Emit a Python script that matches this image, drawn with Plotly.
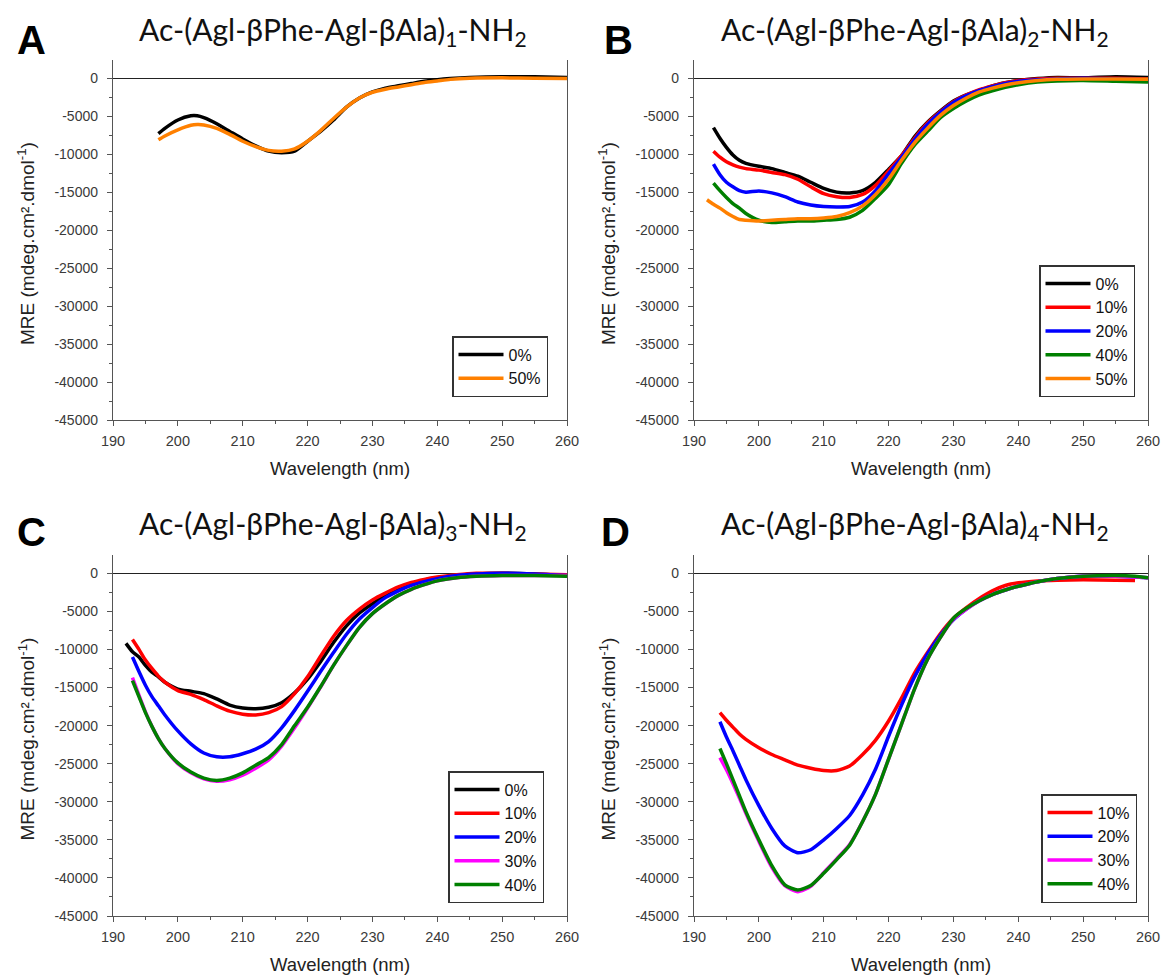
import plotly.graph_objects as go

# ---------------- data ----------------
# Panel A
wl_A = [197, 198, 200, 202, 203, 204, 206, 208, 210, 212, 214, 216, 218, 220, 222, 224, 226, 228, 230, 232, 234, 236, 238, 240, 242, 245, 250, 255, 260]
A_0 = [-7300, -6600, -5500, -4950, -4950, -5200, -6000, -7000, -8000, -8900, -9600, -9800, -9600, -8300, -7000, -5500, -3800, -2600, -1800, -1300, -1000, -700, -400, -200, -50, 100, 200, 200, 100]
A_50 = [-8100, -7600, -6800, -6200, -6100, -6150, -6600, -7400, -8300, -9000, -9500, -9600, -9300, -8300, -6900, -5300, -3800, -2600, -1850, -1450, -1150, -850, -550, -350, -150, 0, 50, 0, -50]

# Panel B
wl_B = [192, 193, 194, 195, 196, 197, 198, 200, 202, 204, 206, 208, 210, 212, 214, 216, 218, 220, 222, 224, 226, 228, 230, 232, 234, 236, 238, 240, 243, 246, 250, 255, 260]
B_0 = [None, -6500, -7900, -9100, -10100, -10800, -11200, -11600, -11900, -12400, -12900, -13700, -14500, -15000, -15100, -14800, -13700, -12000, -10200, -7700, -5800, -4300, -3000, -2200, -1600, -1000, -600, -300, -50, 100, 50, 200, 100]
B_10 = [None, -9600, -10400, -11000, -11400, -11700, -11900, -12100, -12400, -12700, -13300, -14300, -15200, -15600, -15700, -15300, -14100, -12200, -10200, -7900, -5900, -4400, -3100, -2200, -1500, -1000, -600, -300, -100, 0, 0, 0, -100]
B_20 = [None, -11300, -12700, -13700, -14300, -14800, -15000, -14850, -15100, -15600, -16300, -16700, -16900, -16950, -16900, -16300, -14800, -12600, -10400, -8100, -6100, -4500, -3200, -2300, -1600, -1100, -700, -400, -200, -100, 0, -100, -200]
B_40 = [None, -13800, -14800, -15700, -16500, -17100, -17800, -18700, -19000, -18900, -18800, -18800, -18700, -18600, -18300, -17400, -15800, -14000, -11200, -8800, -7000, -5200, -4000, -3000, -2200, -1650, -1200, -850, -500, -350, -300, -400, -500]
B_50 = [-16000, -16600, -17100, -17700, -18200, -18600, -18700, -18800, -18700, -18600, -18500, -18500, -18400, -18200, -17700, -16800, -15300, -13300, -10800, -8500, -6600, -4900, -3600, -2600, -1800, -1300, -900, -600, -300, -150, -100, -100, -150]

# Panel C
wl_C = [192, 193, 194, 195, 196, 197, 198, 200, 202, 204, 206, 208, 210, 212, 214, 216, 218, 220, 222, 224, 226, 228, 230, 232, 234, 236, 238, 240, 243, 246, 250, 255, 260]
C_0 = [-9200, -10300, -11000, -12100, -13000, -13600, -14300, -15200, -15500, -15800, -16500, -17300, -17700, -17800, -17600, -17000, -15700, -13900, -11600, -9100, -6900, -5200, -4000, -2900, -2000, -1400, -900, -600, -300, -100, 0, -100, -300]
C_10 = [None, -8700, -10000, -11400, -12500, -13500, -14300, -15400, -15900, -16600, -17400, -18100, -18500, -18600, -18300, -17500, -15800, -13600, -10900, -8300, -6200, -4700, -3500, -2600, -1800, -1200, -800, -500, -200, 0, 0, -100, -200]
C_20 = [None, -11000, -12900, -14700, -16200, -17400, -18600, -20700, -22400, -23600, -24100, -24100, -23700, -23100, -22100, -20300, -18000, -15500, -12900, -10400, -8000, -6000, -4500, -3200, -2300, -1600, -1100, -700, -300, -100, 0, -100, -300]
C_30 = [None, -13700, -16000, -18200, -20100, -21700, -23000, -25000, -26200, -27000, -27300, -27100, -26500, -25600, -24500, -22700, -20300, -17700, -14950, -12100, -9500, -7100, -5300, -4000, -2900, -2100, -1500, -1000, -600, -400, -300, -300, -300]
C_40 = [None, -14100, -16200, -18300, -20100, -21700, -23000, -24900, -26100, -26900, -27200, -26900, -26200, -25200, -24200, -22500, -20000, -17600, -14900, -12100, -9500, -7100, -5300, -4000, -2900, -2100, -1500, -1000, -600, -400, -300, -300, -400]

# Panel D
wl_D = [194, 195, 196, 197, 198, 200, 202, 204, 206, 208, 210, 212, 214, 216, 218, 220, 222, 224, 226, 228, 230, 232, 234, 236, 238, 240, 243, 246, 250, 255, 258, 260]
D_10 = [-18300, -19300, -20200, -21100, -21800, -22900, -23800, -24500, -25200, -25600, -25900, -25900, -25300, -23800, -21900, -19400, -16400, -13100, -10400, -7900, -5900, -4500, -3300, -2300, -1600, -1250, -1000, -900, -850, -900, -950, None]
D_20 = [-19500, -21500, -23300, -25200, -27100, -30500, -33500, -35800, -36700, -36300, -35000, -33500, -31800, -29100, -25700, -21400, -17300, -13600, -10600, -8100, -6100, -4700, -3600, -2800, -2200, -1700, -1100, -700, -400, -400, -500, -600]
D_30 = [-24200, -25800, -27600, -29500, -31500, -35200, -38600, -41000, -41800, -41100, -39300, -37500, -35600, -32600, -29000, -24400, -19800, -15200, -11300, -8400, -6000, -4700, -3600, -2800, -2200, -1700, -1100, -700, -400, -400, -500, -600]
D_40 = [-23000, -25000, -27100, -29200, -31300, -35000, -38400, -40900, -41600, -41000, -39400, -37600, -35700, -32600, -29000, -24400, -19800, -15200, -11300, -8400, -5900, -4600, -3600, -2800, -2200, -1700, -1100, -700, -400, -300, -400, -600]

titles = ["Ac-(Agl-βPhe-Agl-βAla)<sub>1</sub>-NH<sub>2</sub>",
          "Ac-(Agl-βPhe-Agl-βAla)<sub>2</sub>-NH<sub>2</sub>",
          "Ac-(Agl-βPhe-Agl-βAla)<sub>3</sub>-NH<sub>2</sub>",
          "Ac-(Agl-βPhe-Agl-βAla)<sub>4</sub>-NH<sub>2</sub>"]
letters = ["A", "B", "C", "D"]
x_title = "Wavelength (nm)"
y_title = "MRE (mdeg.cm².dmol<sup>-1</sup>)"
x_ticks = [190, 200, 210, 220, 230, 240, 250, 260]
y_ticks = [0, -5000, -10000, -15000, -20000, -25000, -30000, -35000, -40000, -45000]
y_ticktext = ["0", "-5000", "-10000", "-15000", "-20000", "-25000", "-30000", "-35000", "-40000", "-45000"]

COLORS = {"0%": "#000000", "10%": "#ff0000", "20%": "#0000ff", "30%": "#ff00ff", "40%": "#008000", "50%": "#ff8000"}

panels = [
    (wl_A, [("0%", A_0), ("50%", A_50)]),
    (wl_B, [("0%", B_0), ("10%", B_10), ("20%", B_20), ("40%", B_40), ("50%", B_50)]),
    (wl_C, [("0%", C_0), ("10%", C_10), ("20%", C_20), ("30%", C_30), ("40%", C_40)]),
    (wl_D, [("10%", D_10), ("20%", D_20), ("30%", D_30), ("40%", D_40)]),
]

W, H = 1161, 976
# plot area pixel boxes (left, right, top, bottom)
boxes = [(113, 567, 60, 420), (694, 1148, 60, 420), (113, 567, 555, 916), (694, 1148, 555, 916)]
legend_box = [(548, 397), (1135, 397), (544, 903), (1137, 903)]
title_pos = [(333, 31), (915, 31), (333, 525), (915, 525)]
letter_pos = [(31, 40), (618, 40), (31, 532), (615, 532)]

FONT = "Liberation Sans, Arial, sans-serif"
fig = go.Figure()

for i, (wl, series) in enumerate(panels):
    sfx = "" if i == 0 else str(i + 1)
    for name, vals in series:
        fig.add_trace(go.Scatter(
            x=wl, y=vals, name=name, mode="lines",
            line=dict(color=COLORS[name], width=3.5, shape="spline", smoothing=0.6),
            xaxis="x" + sfx, yaxis="y" + sfx, legend="legend" + sfx,
            connectgaps=False,
        ))
    l, r, t, b = boxes[i]
    xd = [l / W, r / W]
    yd = [1 - b / H, 1 - t / H]
    fig.layout["xaxis" + sfx] = dict(
        domain=xd, anchor="y" + sfx, range=[190, 260], automargin=False,
        tickvals=x_ticks, ticks="outside", ticklen=5, tickwidth=1.3, tickcolor="#555",
        minor=dict(dtick=5, tick0=190, ticks="outside", ticklen=3, tickwidth=1.3, tickcolor="#555"),
        showline=True, linecolor="#555", linewidth=1.4, mirror=False,
        showgrid=False, zeroline=False, ticklabelstandoff=2,
        tickfont=dict(family=FONT, size=14.5, color="#3a3a3a"),
    )
    fig.layout["yaxis" + sfx] = dict(
        domain=yd, anchor="x" + sfx, range=[-45000, 2400], automargin=False,
        tickvals=y_ticks, ticktext=y_ticktext,
        ticks="outside", ticklen=5, tickwidth=1.3, tickcolor="#555",
        minor=dict(dtick=2500, tick0=0, ticks="outside", ticklen=3, tickwidth=1.3, tickcolor="#555"),
        showline=True, linecolor="#555", linewidth=1.4, mirror=True,
        showgrid=False, zeroline=True, zerolinecolor="#222", zerolinewidth=1,
        ticklabelstandoff=6,
        tickfont=dict(family=FONT, size=14, color="#3a3a3a"),
    )
    # axis titles
    fig.add_annotation(text=x_title, x=(l + r) / 2 / W, y=1 - (b + 48) / H, xref="paper", yref="paper",
                       showarrow=False, xanchor="center", yanchor="middle",
                       font=dict(family=FONT, size=18.5, color="#222"))
    fig.add_annotation(text=y_title, x=(l - 87) / W, y=1 - ((t + b) / 2 + 4) / H, xref="paper", yref="paper",
                       showarrow=False, xanchor="center", yanchor="middle", textangle=-90,
                       font=dict(family=FONT, size=19, color="#222"))
    lx, ly = legend_box[i]
    fig.layout["legend" + sfx] = dict(
        x=lx / W, y=1 - ly / H, xanchor="right", yanchor="bottom",
        xref="paper", yref="paper",
        bgcolor="white", bordercolor="#333", borderwidth=1.5,
        font=dict(family=FONT, size=16, color="#111"),
        tracegroupgap=0, itemwidth=45,
    )
    tx, ty = title_pos[i]
    fig.add_annotation(text=titles[i], x=tx / W, y=1 - ty / H, xref="paper", yref="paper",
                       showarrow=False, xanchor="center", yanchor="middle",
                       font=dict(family="Lato, Open Sans, sans-serif", size=30, color="#111"))
    px, py = letter_pos[i]
    fig.add_annotation(text="<b>%s</b>" % letters[i], x=px / W, y=1 - py / H, xref="paper", yref="paper",
                       showarrow=False, xanchor="center", yanchor="middle",
                       font=dict(family=FONT, size=40, color="#000"))

fig.update_layout(
    width=W, height=H, margin=dict(l=0, r=0, t=0, b=0, autoexpand=False),
    paper_bgcolor="white", plot_bgcolor="white", showlegend=True,
)

fig.write_html("out.html", config={"displayModeBar": False},
               post_script="document.body.style.margin='0px';document.body.style.overflow='hidden';")
